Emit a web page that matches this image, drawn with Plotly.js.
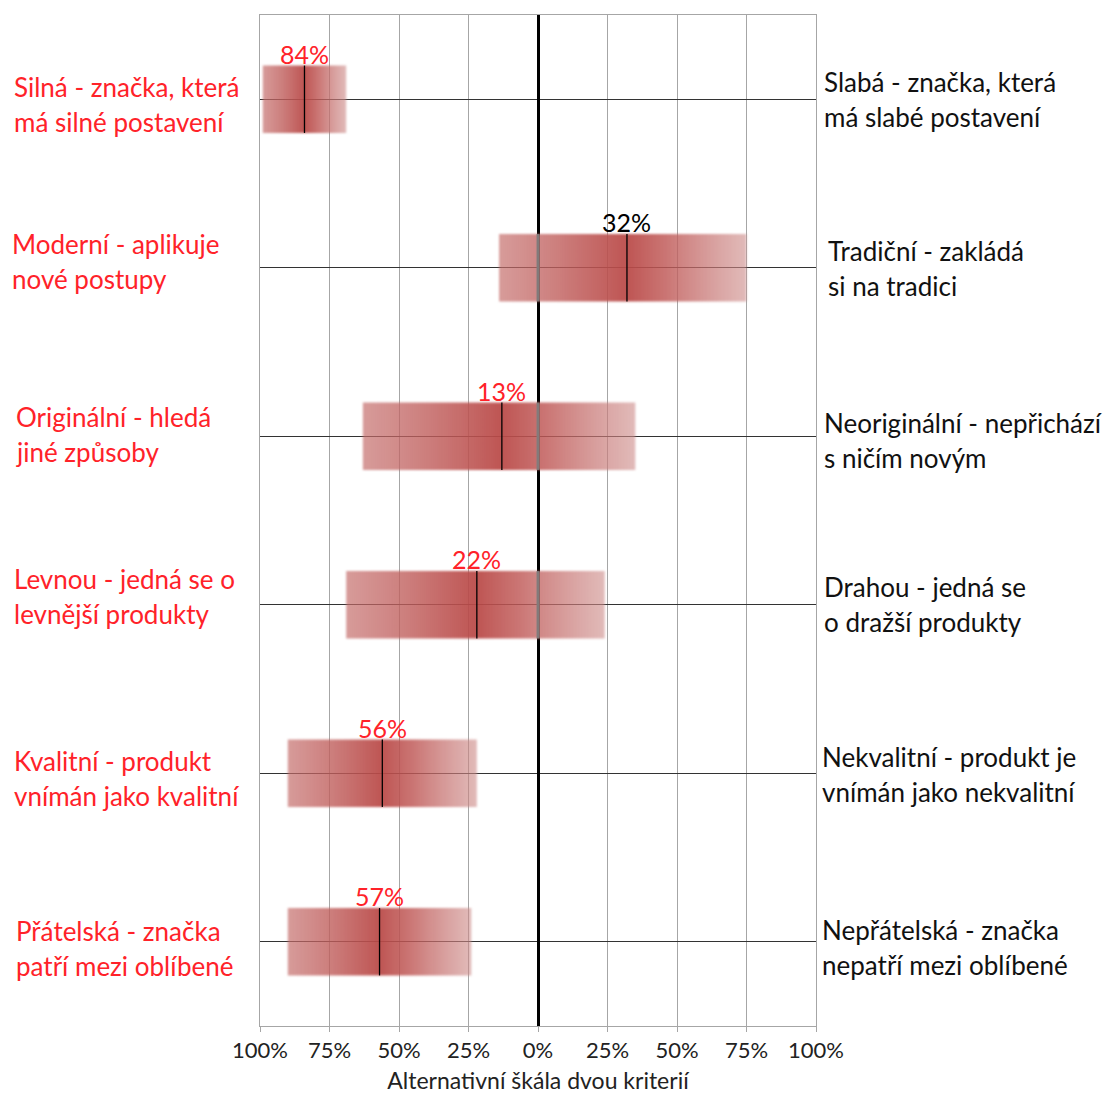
<!DOCTYPE html>
<html>
<head>
<meta charset="utf-8">
<script src="https://cdn.plot.ly/plotly-3.0.1.min.js"></script>
<style>
  html, body { margin: 0; padding: 0; background: #fff; }
  #chart { width: 1112px; height: 1094px; }
  /* soft edges on the gradient boxes */
  #chart .scatterlayer path.js-fill { filter: blur(1.1px); }
</style>
</head>
<body>
<div id="chart"></div>
<script>
// Semantic differential: each brand attribute is rated on a two-sided scale.
// Negative values lean to the left-hand attribute, positive to the right-hand one.
const leftLabels = [
  ["Silná - značka, která", "má silné postavení"],
  ["Moderní - aplikuje", "nové postupy"],
  ["Originální - hledá", "jiné způsoby"],
  ["Levnou - jedná se o", "levnější produkty"],
  ["Kvalitní - produkt", "vnímán jako kvalitní"],
  ["Přátelská - značka", "patří mezi oblíbené"]
];
const rightLabels = [
  ["Slabá - značka, která", "má slabé postavení"],
  ["Tradiční - zakládá", "si na tradici"],
  ["Neoriginální - nepřichází", "s ničím novým"],
  ["Drahou - jedná se", "o dražší produkty"],
  ["Nekvalitní - produkt je", "vnímán jako nekvalitní"],
  ["Nepřátelská - značka", "nepatří mezi oblíbené"]
];
// mean position of answers (%), and the spread of answers (low / high end)
const meanValues = [-84, 32, -13, -22, -56, -57];
const lowValues  = [-99, -14, -63, -69, -90, -90];
const highValues = [-69, 75, 35, 24, -22, -24];

const tickValues = [-100, -75, -50, -25, 0, 25, 50, 75, 100];
const tickLabels = ["100%", "75%", "50%", "25%", "0%", "25%", "50%", "75%", "100%"];
const axisTitle = "Alternativní škála dvou kriterií";

const FONT = "Lato, 'Open Sans', sans-serif";
const RED = "#ff2229";
const HALF = 0.2;   // half height of each box in category units

const traces = [];
meanValues.forEach((m, i) => {
  const lo = lowValues[i], hi = highValues[i];
  const pos = (m - lo) / (hi - lo);
  // gradient box: darkest at the mean, fading toward both ends
  traces.push({
    type: "scatter",
    mode: "lines",
    x: [lo, hi, hi, lo, lo],
    y: [i - HALF, i - HALF, i + HALF, i + HALF, i - HALF],
    fill: "toself",
    fillgradient: {
      type: "horizontal",
      start: lo,
      stop: hi,
      colorscale: [
        [0, "rgba(196,108,106,0.68)"],
        [Math.max(0.001, pos * 0.45), "rgba(192,95,93,0.8)"],
        [Math.max(0.002, pos), "rgba(186,74,72,0.94)"],
        [Math.min(0.999, pos + (1 - pos) * 0.35), "rgba(192,90,88,0.82)"],
        [1, "rgba(205,140,138,0.6)"]
      ]
    },
    line: { width: 0 },
    hoverinfo: "skip",
    showlegend: false
  });
  // the central axis shows through the box as a grey stripe
  if (lo < 0 && hi > 0) {
    traces.push({
      type: "scatter",
      mode: "lines",
      x: [0, 0],
      y: [i - HALF, i + HALF],
      line: { color: "rgba(128,128,128,0.9)", width: 3 },
      hoverinfo: "skip",
      showlegend: false
    });
  }
  // mean marker
  traces.push({
    type: "scatter",
    mode: "lines",
    x: [m, m],
    y: [i - HALF, i + HALF],
    line: { color: "#000", width: 1.3 },
    hoverinfo: "skip",
    showlegend: false
  });
});

const annotations = [];

// percentage labels just above the mean markers
meanValues.forEach((m, i) => {
  annotations.push({
    text: Math.abs(m) + "%",
    xref: "x", yref: "y",
    x: m, y: i - HALF,
    xanchor: "center", yanchor: "bottom",
    yshift: -5,
    showarrow: false,
    font: { family: FONT, size: 25, color: m < 0 ? RED : "#000" }
  });
});

// side labels, one annotation per line
const leftX = [12, 10, 14, 12, 12, 14];
const leftShift = [-5, 6, 2, 8, -5, -7];
const rightX = [822, 826, 822, 822, 820, 820];
const rightShift = [0, -1, -4, 0, -1, -6];
const PLOT_L = 260, PLOT_W = 556, LINE_GAP = 17.5;
function addSide(labels, xs, shifts, color) {
  labels.forEach((lines, i) => {
    lines.forEach((t, k) => {
      annotations.push({
        text: t,
        xref: "paper", yref: "y",
        x: (xs[i] - PLOT_L) / PLOT_W,
        y: i,
        xanchor: "left", yanchor: "middle",
        yshift: shifts[i] + (k === 0 ? LINE_GAP : -LINE_GAP),
        showarrow: false,
        font: { family: FONT, size: 26, color: color }
      });
    });
  });
}
addSide(leftLabels, leftX, leftShift, RED);
addSide(rightLabels, rightX, rightShift, "#111");

const layout = {
  width: 1112,
  height: 1094,
  margin: { l: 260, r: 296, t: 15, b: 68 },
  paper_bgcolor: "#fff",
  plot_bgcolor: "#fff",
  showlegend: false,
  xaxis: {
    range: [-100, 100],
    tickvals: tickValues,
    ticktext: tickLabels,
    tickfont: { family: FONT, size: 22, color: "#222" },
    ticks: "outside",
    ticklen: 5,
    tickcolor: "#a6a6a6",
    showgrid: true,
    gridcolor: "#a6a6a6",
    gridwidth: 1,
    zeroline: true,
    zerolinecolor: "#000",
    zerolinewidth: 3,
    showline: true,
    linecolor: "#a6a6a6",
    linewidth: 1,
    mirror: true,
    title: { text: axisTitle, font: { family: FONT, size: 23, color: "#222" }, standoff: 18 },
    fixedrange: true
  },
  yaxis: {
    range: [5.5, -0.5],
    tickvals: [0, 1, 2, 3, 4, 5],
    showticklabels: false,
    ticks: "",
    showgrid: true,
    gridcolor: "#333",
    gridwidth: 1,
    zeroline: false,
    showline: true,
    linecolor: "#a6a6a6",
    linewidth: 1,
    mirror: true,
    fixedrange: true
  },
  annotations: annotations
};

Plotly.newPlot("chart", traces, layout, { displayModeBar: false, staticPlot: true });
</script>
</body>
</html>
